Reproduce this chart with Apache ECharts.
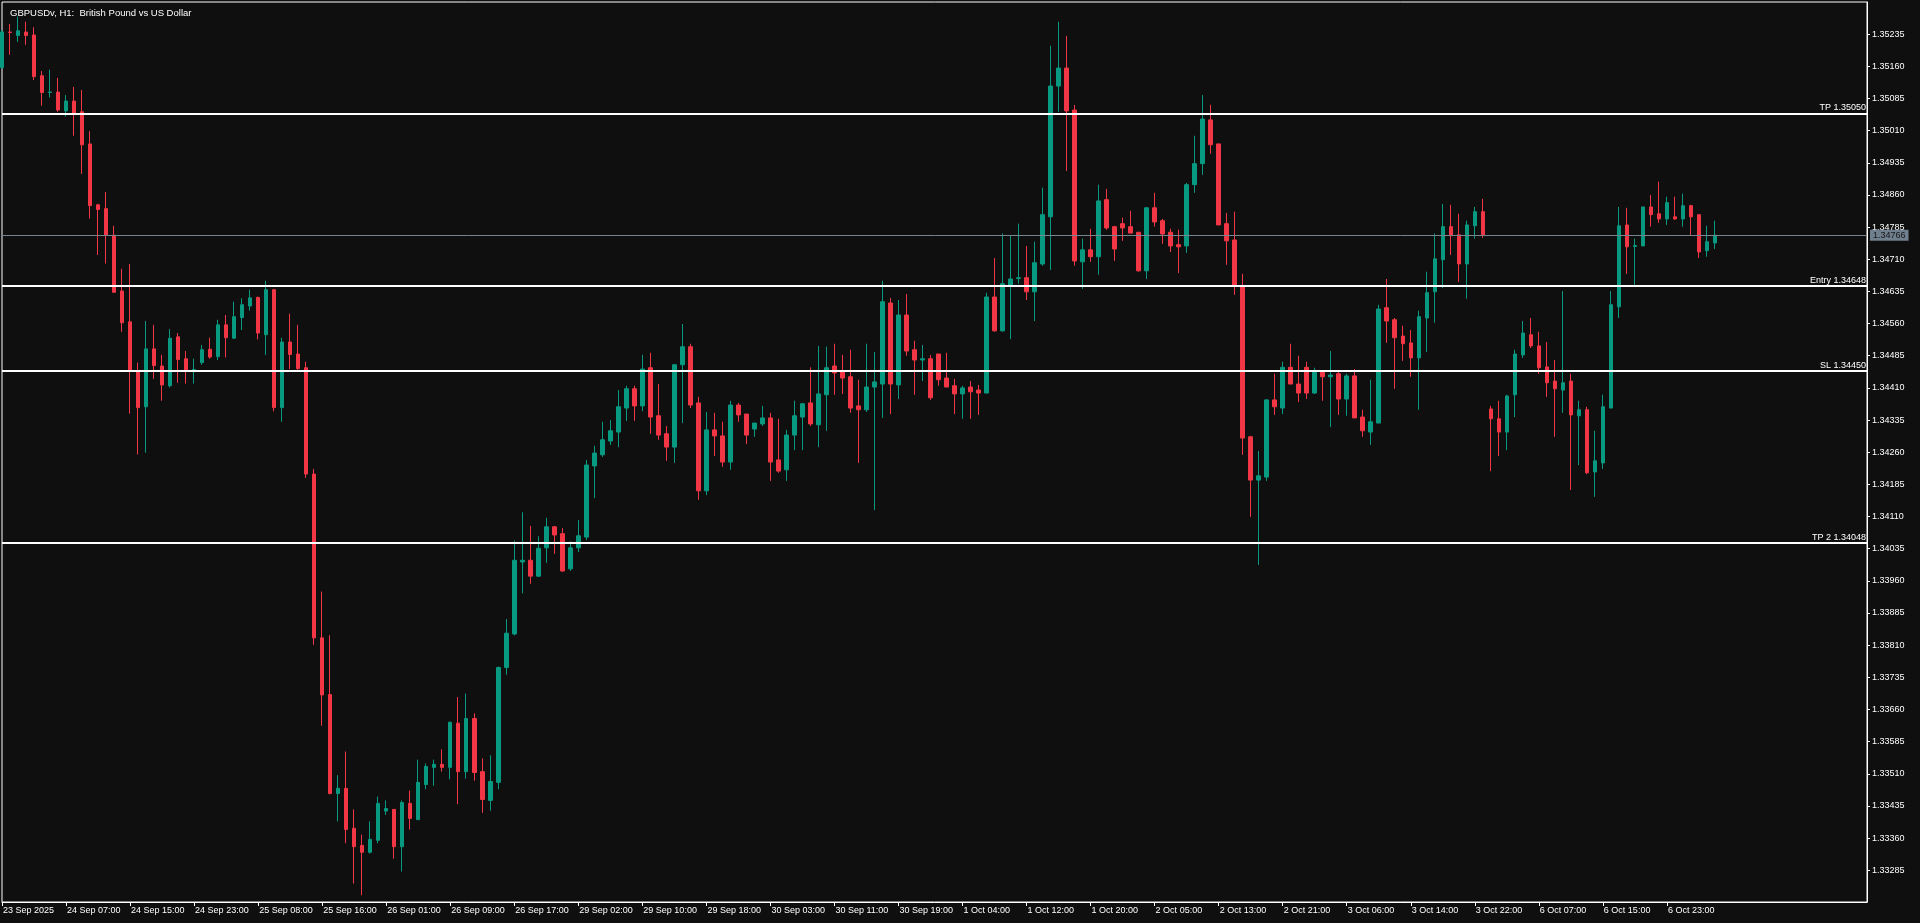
<!DOCTYPE html>
<html>
<head>
<meta charset="utf-8">
<script src="https://cdn.jsdelivr.net/npm/echarts@6/dist/echarts.min.js"></script>
<style>
  html, body { margin: 0; padding: 0; background: #0f0f0f; }
  #chart { width: 1920px; height: 923px; }
</style>
</head>
<body>
<div id="chart"></div>
<script>
// ---- data (GBPUSDv H1) ----
const openP = [1.35157,1.35240,1.35232,1.35240,1.35233,1.35138,1.35099,1.35100,1.35056,1.35079,1.35054,1.34979,1.34837,1.34828,1.34766,1.34636,1.34564,1.34450,1.34366,1.34501,1.34461,1.34415,1.34529,1.34478,1.34451,1.34469,1.34500,1.34483,1.34557,1.34526,1.34574,1.34601,1.34621,1.34534,1.34639,1.34364,1.34517,1.34489,1.34457,1.34209,
1.33827,1.33695,1.33464,1.33476,1.33383,1.33343,1.33327,1.33355,1.33423,1.33427,1.33340,1.33441,1.33403,1.33485,1.33525,1.33532,1.33525,1.33628,1.33515,1.33639,1.33515,1.33448,1.33490,1.33758,1.33836,1.34004,1.34008,1.33971,1.34037,1.34086,
1.34070,1.33988,1.34037,1.34062,1.34228,1.34254,1.34286,1.34307,1.34363,1.34408,1.34368,1.34457,1.34345,1.34303,1.34272,1.34464,1.34506,1.34375,1.34170,1.34312,1.34298,1.34237,1.34370,1.34349,1.34314,1.34326,1.34340,1.34242,1.34219,1.34300,
1.34342,1.34375,1.34324,1.34394,1.34461,1.34447,1.34436,1.34368,1.34359,1.34412,1.34419,1.34608,1.34417,1.34580,1.34499,1.34475,1.34478,1.34489,1.34433,1.34415,1.34396,1.34412,1.34405,1.34398,1.34622,1.34543,1.34650,1.34665,1.34667,1.34634,
1.34699,1.34809,1.35114,1.35156,1.35058,1.34704,1.34732,1.34716,1.34849,1.34786,1.34793,1.34786,1.34773,1.34683,1.34830,1.34800,1.34773,1.34744,1.34741,1.34884,1.34933,1.35035,1.34979,1.34793,1.34755,1.34648,1.34296,1.34195,1.34202,1.34382,
1.34363,1.34458,1.34419,1.34458,1.34398,1.34447,1.34436,1.34443,1.34384,1.34438,1.34342,1.34307,1.34328,1.34597,1.34569,1.34531,1.34515,1.34480,1.34573,1.34634,1.34709,1.34786,1.34767,1.34699,1.34788,1.34821,1.34361,1.34338,1.34307,1.34394,
1.34487,1.34534,1.34508,1.34459,1.34426,1.34405,1.34426,1.34345,1.34359,1.34214,1.34235,1.34363,1.34599,1.34790,1.34740,1.34741,1.34832,1.34816,1.34804,1.34809,1.34804,1.34835,1.34814,1.34730,1.34748];

const closeP = [1.35240,1.35239,1.35243,1.35232,1.35136,1.35099,1.35100,1.35058,1.35079,1.35051,1.34977,1.34835,1.34826,1.34766,1.34633,1.34562,1.34452,1.34364,1.34501,1.34462,1.34417,1.34526,1.34476,1.34452,1.34453,1.34499,1.34482,1.34557,1.34527,1.34576,1.34604,1.34620,1.34538,1.34639,1.34364,1.34517,1.34488,1.34455,1.34209,1.33827,
1.33694,1.33464,1.33476,1.33380,1.33340,1.33327,1.33357,1.33441,1.33429,1.33340,1.33443,1.33406,1.33490,1.33527,1.33532,1.33525,1.33630,1.33515,1.33639,1.33513,1.33450,1.33492,1.33758,1.33838,1.34008,1.34008,1.33971,1.34036,1.34086,1.34067,
1.33983,1.34037,1.34065,1.34230,1.34258,1.34289,1.34310,1.34366,1.34408,1.34368,1.34454,1.34342,1.34300,1.34272,1.34464,1.34506,1.34370,1.34170,1.34312,1.34298,1.34237,1.34370,1.34347,1.34300,1.34328,1.34340,1.34237,1.34216,1.34300,1.34345,
1.34373,1.34326,1.34396,1.34457,1.34445,1.34433,1.34363,1.34359,1.34412,1.34424,1.34611,1.34419,1.34580,1.34496,1.34475,1.34478,1.34387,1.34429,1.34412,1.34396,1.34410,1.34401,1.34398,1.34622,1.34543,1.34653,1.34664,1.34667,1.34634,1.34702,
1.34814,1.35114,1.35156,1.35056,1.34706,1.34732,1.34716,1.34846,1.34783,1.34734,1.34783,1.34771,1.34683,1.34830,1.34797,1.34769,1.34741,1.34739,1.34884,1.34933,1.35037,1.34977,1.34790,1.34753,1.34648,1.34293,1.34195,1.34205,1.34382,1.34366,
1.34458,1.34419,1.34398,1.34398,1.34447,1.34436,1.34440,1.34384,1.34438,1.34340,1.34310,1.34331,1.34594,1.34566,1.34527,1.34513,1.34480,1.34576,1.34632,1.34711,1.34786,1.34765,1.34699,1.34790,1.34821,1.34767,1.34338,1.34307,1.34391,1.34489,
1.34538,1.34508,1.34457,1.34422,1.34408,1.34422,1.34347,1.34359,1.34212,1.34240,1.34366,1.34604,1.34788,1.34739,1.34742,1.34832,1.34814,1.34804,1.34842,1.34804,1.34835,1.34809,1.34727,1.34751,1.34766];

const highP = [1.35245,1.35259,1.35276,1.35264,1.35251,1.35149,1.35152,1.35133,1.35093,1.35112,1.35105,1.35009,1.34839,1.34867,1.34788,1.34688,1.34699,1.34469,1.34566,1.34557,1.34487,1.34547,1.34538,1.34496,1.34478,1.34510,1.34527,1.34569,1.34580,1.34611,1.34619,1.34639,1.34623,1.34660,1.34641,1.34527,1.34583,1.34557,1.34471,1.34221,
1.33935,1.33833,1.33507,1.33562,1.33427,1.33368,1.33399,1.33457,1.33448,1.33427,1.33448,1.33471,1.33543,1.33534,1.33543,1.33567,1.33632,1.33689,1.33697,1.33651,1.33546,1.33553,1.33760,1.33871,1.34054,1.34120,1.34088,1.34064,1.34107,1.34088,
1.34083,1.34052,1.34102,1.34242,1.34275,1.34331,1.34335,1.34405,1.34415,1.34415,1.34487,1.34492,1.34419,1.34321,1.34466,1.34559,1.34513,1.34389,1.34354,1.34352,1.34331,1.34380,1.34375,1.34349,1.34328,1.34368,1.34352,1.34338,1.34312,1.34380,
1.34375,1.34458,1.34508,1.34506,1.34513,1.34487,1.34499,1.34429,1.34513,1.34494,1.34660,1.34620,1.34615,1.34629,1.34520,1.34510,1.34487,1.34489,1.34492,1.34431,1.34415,1.34426,1.34417,1.34632,1.34713,1.34770,1.34765,1.34793,1.34741,1.34751,
1.34877,1.35208,1.35264,1.35231,1.35070,1.34758,1.34781,1.34884,1.34874,1.34788,1.34807,1.34823,1.34773,1.34832,1.34865,1.34804,1.34781,1.34779,1.34888,1.34998,1.35093,1.35070,1.34979,1.34818,1.34821,1.34676,1.34298,1.34263,1.34384,1.34443,
1.34471,1.34513,1.34485,1.34471,1.34457,1.34447,1.34496,1.34447,1.34443,1.34454,1.34359,1.34429,1.34604,1.34664,1.34573,1.34555,1.34545,1.34590,1.34681,1.34770,1.34839,1.34837,1.34816,1.34800,1.34832,1.34851,1.34368,1.34380,1.34394,1.34499,
1.34566,1.34573,1.34541,1.34517,1.34475,1.34636,1.34443,1.34380,1.34366,1.34310,1.34394,1.34636,1.34832,1.34830,1.34758,1.34832,1.34860,1.34891,1.34856,1.34856,1.34863,1.34837,1.34814,1.34788,1.34800];

const lowP = [1.35154,1.35187,1.35217,1.35210,1.35128,1.35068,1.35087,1.35054,1.35043,1.34998,1.34909,1.34805,1.34720,1.34700,1.34632,1.34541,1.34350,1.34255,1.34259,1.34431,1.34380,1.34411,1.34422,1.34420,1.34420,1.34464,1.34478,1.34475,1.34481,1.34524,1.34545,1.34590,1.34523,1.34487,1.34355,1.34331,1.34454,1.34452,1.34200,1.33811,
1.33622,1.33462,1.33399,1.33348,1.33254,1.33227,1.33324,1.33348,1.33414,1.33312,1.33282,1.33380,1.33403,1.33474,1.33482,1.33515,1.33497,1.33439,1.33499,1.33494,1.33419,1.33424,1.33474,1.33741,1.33833,1.33931,1.33953,1.33969,1.34002,1.34023,
1.33981,1.33983,1.34027,1.34055,1.34153,1.34249,1.34277,1.34272,1.34333,1.34333,1.34356,1.34303,1.34289,1.34240,1.34235,1.34328,1.34363,1.34149,1.34160,1.34251,1.34226,1.34219,1.34331,1.34279,1.34296,1.34321,1.34193,1.34212,1.34193,1.34265,
1.34265,1.34321,1.34272,1.34310,1.34394,1.34396,1.34352,1.34235,1.34354,1.34125,1.34340,1.34349,1.34384,1.34485,1.34394,1.34426,1.34382,1.34415,1.34412,1.34349,1.34338,1.34338,1.34347,1.34398,1.34541,1.34541,1.34524,1.34653,1.34615,1.34566,
1.34695,1.34685,1.35054,1.34916,1.34695,1.34641,1.34704,1.34674,1.34779,1.34706,1.34753,1.34771,1.34681,1.34664,1.34786,1.34746,1.34727,1.34678,1.34725,1.34865,1.34907,1.34956,1.34790,1.34697,1.34627,1.34254,1.34109,1.33997,1.34193,1.34347,
1.34349,1.34419,1.34377,1.34384,1.34396,1.34380,1.34319,1.34347,1.34345,1.34340,1.34296,1.34277,1.34328,1.34515,1.34408,1.34473,1.34436,1.34359,1.34494,1.34562,1.34643,1.34720,1.34657,1.34618,1.34758,1.34760,1.34216,1.34251,1.34265,1.34342,
1.34480,1.34503,1.34443,1.34389,1.34296,1.34352,1.34172,1.34230,1.34209,1.34156,1.34221,1.34363,1.34573,1.34676,1.34650,1.34741,1.34786,1.34795,1.34790,1.34802,1.34786,1.34765,1.34713,1.34716,1.34734];

const timeLabels = ['23 Sep 2025','24 Sep 07:00','24 Sep 15:00','24 Sep 23:00','25 Sep 08:00','25 Sep 16:00','26 Sep 01:00','26 Sep 09:00','26 Sep 17:00','29 Sep 02:00','29 Sep 10:00','29 Sep 18:00','30 Sep 03:00','30 Sep 11:00','30 Sep 19:00','1 Oct 04:00','1 Oct 12:00','1 Oct 20:00','2 Oct 05:00','2 Oct 13:00','2 Oct 21:00','3 Oct 06:00','3 Oct 14:00','3 Oct 22:00','6 Oct 07:00','6 Oct 15:00','6 Oct 23:00'];
const LABEL_EVERY = 8;

const priceTicks = [1.33285,1.33360,1.33435,1.33510,1.33585,1.33660,1.33735,1.33810,1.33885,1.33960,1.34035,1.34110,1.34185,1.34260,1.34335,1.34410,1.34485,1.34560,1.34635,1.34710,1.34785,1.34860,1.34935,1.35010,1.35085,1.35160,1.35235];

const levelNames = ['TP', 'Entry', 'SL', 'TP 2'];
const levelValues = [1.35050, 1.34648, 1.34450, 1.34048];

const TITLE = 'GBPUSDv, H1:  British Pound vs US Dollar';
const EMPTY_SLOTS = 19;   // chart shift on the right

// ---- build ----
const nBars = openP.length;
const cats = [];
for (let i = 0; i < nBars + EMPTY_SLOTS; i++) cats.push(String(i));
const candles = openP.map((o, i) => [o, closeP[i], lowP[i], highP[i]]);
const lastClose = closeP[nBars - 1];

const FONT = '"Liberation Sans", Arial, sans-serif';
const isLabelIdx = (idx) => idx % LABEL_EVERY === 0 && idx / LABEL_EVERY < timeLabels.length;

const markData = levelValues.map((v, k) => ({
  yAxis: v,
  lineStyle: { color: '#ffffff', width: 2, type: 'solid' },
  label: {
    show: true, position: 'insideEndTop', distance: 1,
    formatter: levelNames[k] + ' ' + v.toFixed(5),
    color: '#ffffff', fontSize: 9, fontFamily: FONT
  }
}));
markData.push({
  yAxis: lastClose,
  lineStyle: { color: '#78848f', width: 1, type: 'solid' },
  label: {
    show: true, position: 'end', distance: 3,
    formatter: lastClose.toFixed(5),
    color: '#151515', backgroundColor: '#707f8e',
    padding: [1, 3, 1, 3], fontSize: 9, fontFamily: FONT
  }
});

const chart = echarts.init(document.getElementById('chart'), null, { renderer: 'canvas' });
chart.setOption({
  animation: false,
  backgroundColor: '#0f0f0f',
  title: {
    text: TITLE, left: 5, top: 3,
    textStyle: { color: '#ffffff', fontSize: 9.5, fontWeight: 'normal', fontFamily: FONT }
  },
  grid: {
    left: 2, right: 53, top: 2, bottom: 21,
    show: true, borderColor: '#ffffff', borderWidth: 1, backgroundColor: 'transparent'
  },
  xAxis: {
    type: 'category',
    data: cats,
    boundaryGap: false,
    axisLine: { show: true, lineStyle: { color: '#ffffff', width: 1 } },
    axisTick: { show: true, length: 4, interval: (idx) => isLabelIdx(idx), lineStyle: { color: '#ffffff' } },
    axisLabel: {
      show: true, interval: (idx) => isLabelIdx(idx),
      formatter: (val, idx) => timeLabels[idx / LABEL_EVERY],
      align: 'left', margin: 4, padding: [0, 0, 0, 1],
      color: '#ffffff', fontSize: 9, fontFamily: FONT
    },
    splitLine: { show: false }
  },
  yAxis: {
    type: 'value',
    position: 'right',
    min: 1.33211, max: 1.35310,
    scale: true,
    axisLine: { show: true, lineStyle: { color: '#ffffff', width: 1 } },
    axisTick: { show: true, length: 3, customValues: priceTicks, lineStyle: { color: '#ffffff' } },
    axisLabel: {
      show: true, customValues: priceTicks, margin: 5,
      formatter: (v) => v.toFixed(5),
      color: '#ffffff', fontSize: 9, fontFamily: FONT
    },
    splitLine: { show: false }
  },
  series: [{
    type: 'candlestick',
    data: candles,
    barWidth: 4,
    clip: true,
    itemStyle: {
      color: '#089981', color0: '#f23645',
      borderColor: '#089981', borderColor0: '#f23645',
      borderWidth: 1
    },
    markLine: {
      silent: true,
      precision: 5,
      symbol: ['none', 'none'],
      animation: false,
      data: markData
    }
  }]
});
</script>
</body>
</html>
